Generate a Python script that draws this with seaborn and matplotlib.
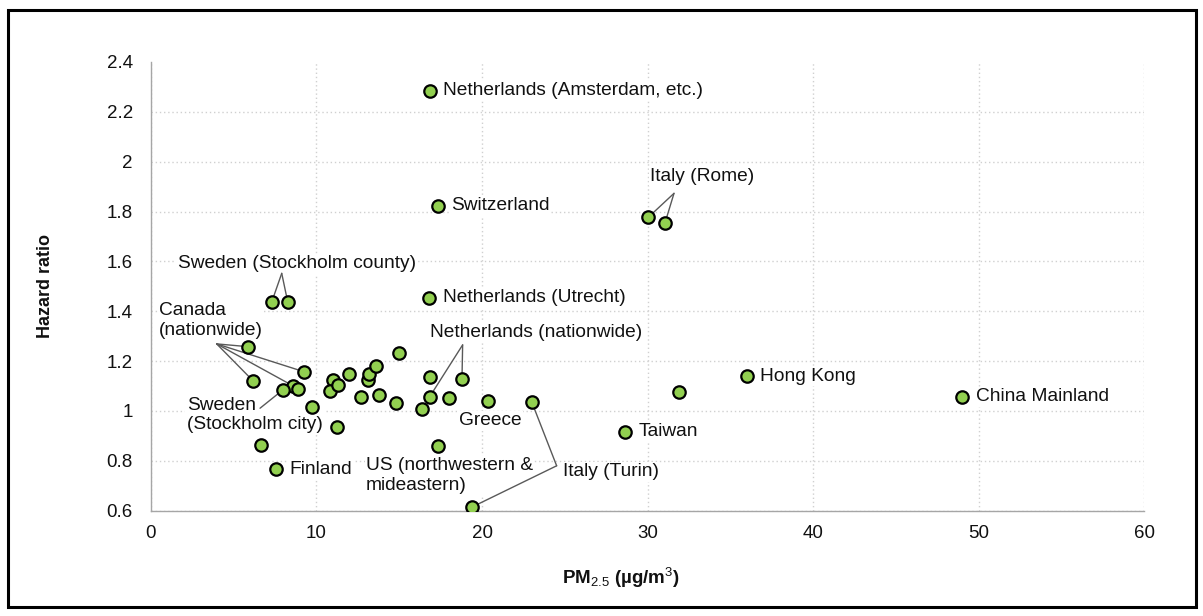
import matplotlib
matplotlib.use("Agg")
import matplotlib.pyplot as plt
import seaborn as sns
from matplotlib.patches import Rectangle

# data
pm25 = [16.86, 17.32, 7.29, 8.26, 16.82, 30.05, 31.06, 5.84, 6.18, 9.26,
        8.60, 7.96, 8.90, 9.75, 10.97, 10.84, 11.32, 11.22, 11.97, 12.66,
        13.09, 13.19, 13.59, 13.77, 14.99, 14.78, 16.38, 16.88, 16.84, 17.32,
        17.98, 18.79, 20.38, 23.00, 19.38, 6.64, 7.55, 28.64, 31.90, 35.99,
        49.02]
hazard = [2.285, 1.823, 1.436, 1.438, 1.454, 1.777, 1.755, 1.258, 1.120, 1.157,
          1.100, 1.084, 1.088, 1.016, 1.126, 1.081, 1.104, 0.937, 1.148, 1.057,
          1.126, 1.148, 1.182, 1.066, 1.234, 1.030, 1.006, 1.138, 1.057, 0.858,
          1.053, 1.127, 1.040, 1.037, 0.614, 0.864, 0.767, 0.917, 1.077, 1.139,
          1.057]

# labels written just right of a single point
side_names = ["Netherlands (Amsterdam, etc.)", "Switzerland", "Netherlands (Utrecht)",
              "Hong Kong", "China Mainland", "Taiwan", "Finland"]
side_idx = [0, 1, 4, 39, 40, 37, 36]

# free labels: text, x, y (data coords of the label), alignment
free_labels = [
    ("Sweden (Stockholm county)", 8.80, 1.590, "center"),
    ("Canada\n(nationwide)", 0.48, 1.363, "left"),
    ("Sweden\n(Stockholm city)", 2.16, 0.984, "left"),
    ("Netherlands (nationwide)", 23.27, 1.316, "center"),
    ("Greece", 20.48, 0.961, "center"),
    ("US (northwestern &\nmideastern)", 12.99, 0.740, "left"),
    ("Italy (Turin)", 24.88, 0.756, "left"),
    ("Italy (Rome)", 33.32, 1.940, "center"),
]

# leader lines: start of the line near the label, and the points it goes to
leaders = [
    ((7.90, 1.552), [2, 3]),
    ((3.97, 1.269), [7, 8, 9, 10]),
    ((6.59, 1.011), [11]),
    ((18.83, 1.265), [31, 28]),
    ((24.51, 0.780), [33, 34]),
    ((31.60, 1.873), [5, 6]),
]

xticks = [0, 10, 20, 30, 40, 50, 60]
yticks = [0.6, 0.8, 1.0, 1.2, 1.4, 1.6, 1.8, 2.0, 2.2, 2.4]
ytick_labels = ["0.6", "0.8", "1", "1.2", "1.4", "1.6", "1.8", "2", "2.2", "2.4"]

sns.set_theme(style="white")
plt.rcParams["font.family"] = ["Liberation Sans", "DejaVu Sans"]
plt.rcParams["mathtext.fontset"] = "custom"
plt.rcParams["mathtext.rm"] = "Liberation Sans"
plt.rcParams["mathtext.it"] = "Liberation Sans:italic"
plt.rcParams["mathtext.bf"] = "Liberation Sans:bold"

fig = plt.figure(figsize=(12.03, 6.16), dpi=100)
ax = fig.add_axes([0.1255, 0.171, 0.8255, 0.7284])

sns.scatterplot(x=pm25, y=hazard, ax=ax, s=80, color="#92D050",
                edgecolor="black", linewidth=1.6, zorder=4)

txt_color = "#111111"
box = dict(facecolor="white", edgecolor="none", pad=1)
fs = 13.8

for name, i in zip(side_names, side_idx):
    ax.annotate(name, xy=(pm25[i], hazard[i]), xytext=(9.5, 0),
                textcoords="offset points", ha="left", va="center",
                fontsize=fs, color=txt_color, zorder=3, bbox=box)

for text, tx, ty, ha in free_labels:
    ax.text(tx, ty, text, ha=ha, va="center", multialignment="left",
            fontsize=fs, color=txt_color, zorder=3, bbox=box)

for (lx, ly), pts in leaders:
    for i in pts:
        ax.plot([lx, pm25[i]], [ly, hazard[i]], color="#595959", lw=1, zorder=3.5)

ax.set_xlim(0, 60)
ax.set_ylim(0.6, 2.4)
ax.set_xticks(xticks)
ax.set_yticks(yticks)
ax.set_yticklabels(ytick_labels)
ax.tick_params(axis="both", length=0, labelsize=13.5, labelcolor=txt_color)
ax.tick_params(axis="x", pad=10)
ax.tick_params(axis="y", pad=13)

ax.grid(True, color="#d0d0d0", linestyle=(0, (1, 2)), linewidth=1)
ax.set_axisbelow(True)
ax.yaxis.get_gridlines()[-1].set_visible(False)

for side in ["top", "right"]:
    ax.spines[side].set_visible(False)
for side in ["left", "bottom"]:
    ax.spines[side].set_color("#a6a6a6")
    ax.spines[side].set_linewidth(1)

ax.set_xlabel("PM$_{2.5}$ (µg/m$^{3}$)", fontsize=13.5, fontweight="bold",
              color=txt_color, va="center")
ax.xaxis.set_label_coords(0.473, -0.15)
ax.set_ylabel("Hazard ratio", fontsize=13, fontweight="bold",
              color=txt_color, va="center")
ax.yaxis.set_label_coords(-0.106, 0.5)

# black frame round the whole chart
fig.patches.append(Rectangle((8 / 1203, 1 - 607 / 616), 1188 / 1203, 597 / 616,
                             transform=fig.transFigure, fill=False,
                             edgecolor="black", linewidth=2.2))

fig.savefig("out.png", dpi=100)
